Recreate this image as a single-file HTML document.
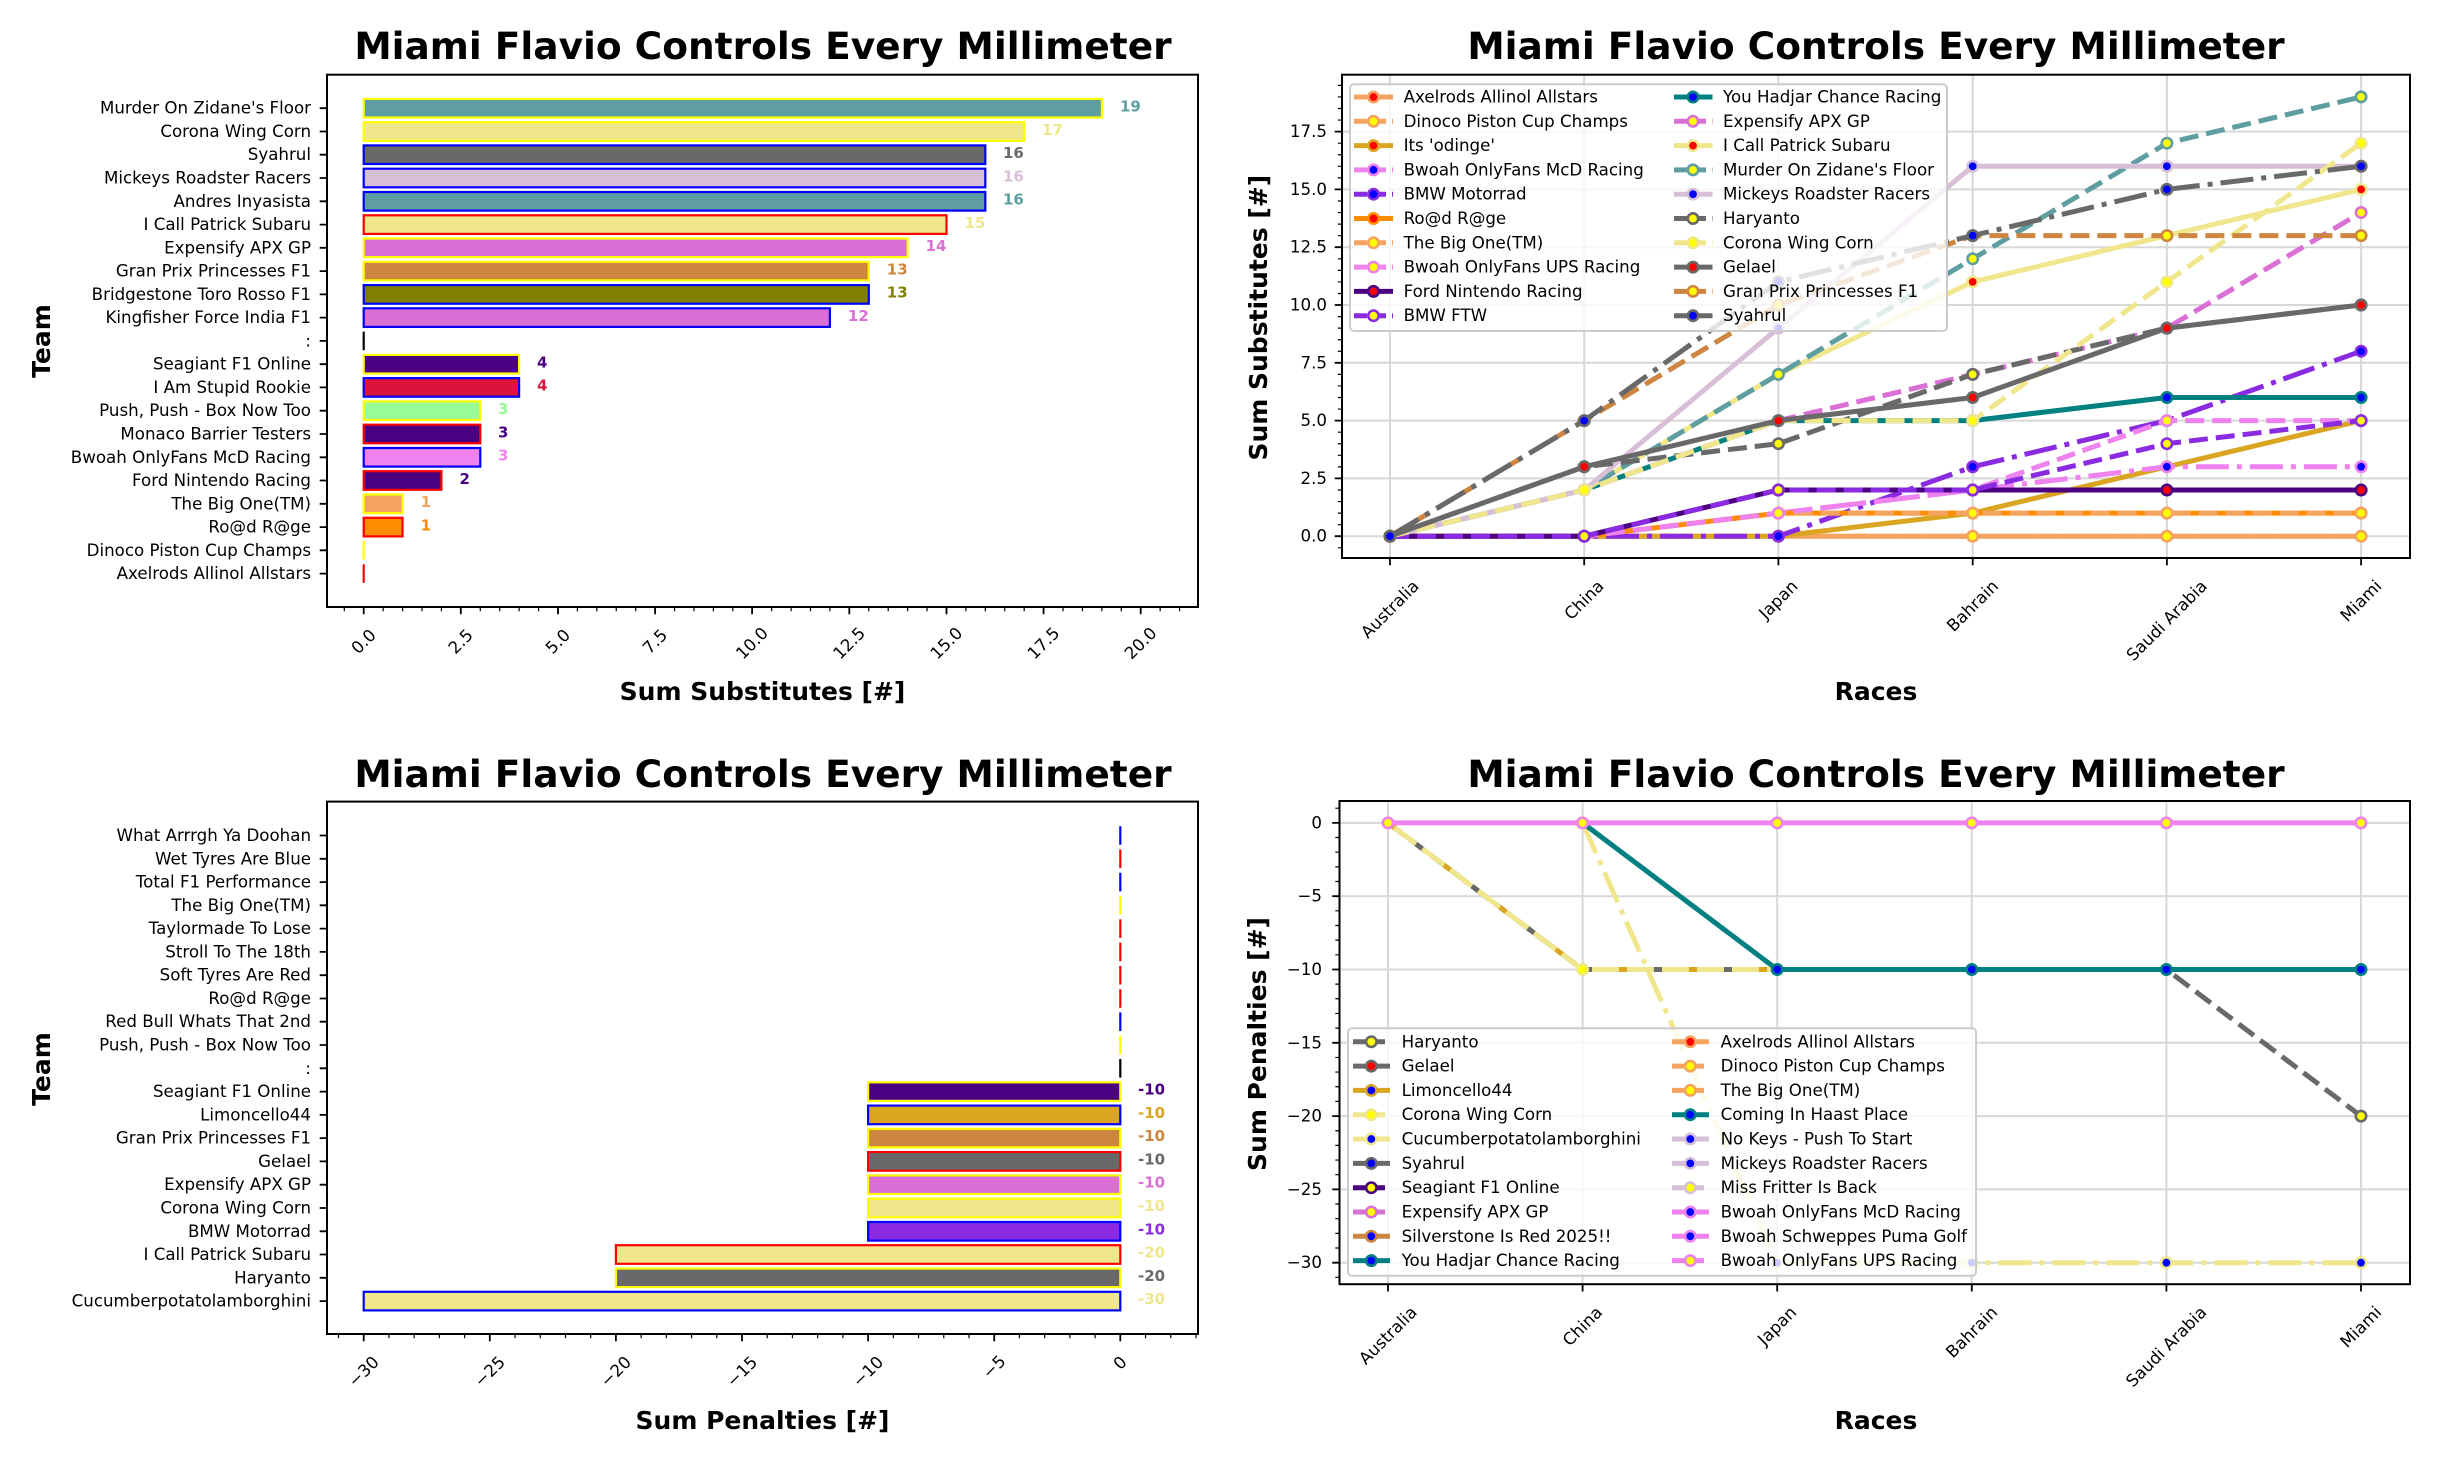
<!DOCTYPE html>
<html><head><meta charset="utf-8"><style>
html,body{margin:0;padding:0;background:#fff}
svg{display:block;font-family:"DejaVu Sans","Liberation Sans",sans-serif}
.t{font-size:16.67px;fill:#000}
.ttl{font-size:37.5px;font-weight:bold;text-anchor:middle}
.al{font-size:25px;font-weight:bold;text-anchor:middle}
.yl{text-anchor:end;dominant-baseline:central}
.vl{font-size:15px;font-weight:bold;dominant-baseline:central}
.rc{text-anchor:middle;dominant-baseline:central}
.lg{dominant-baseline:central}
.g{stroke:#d8d8d8;stroke-width:2}
.k{stroke:#000;stroke-width:1.8}
.ln{fill:none;stroke-width:5}
</style></head><body>
<svg width="2438" height="1458" viewBox="0 0 2438 1458" xmlns="http://www.w3.org/2000/svg">
<defs>
<marker id="sbr" viewBox="-8 -8 16 16" markerWidth="16" markerHeight="16" markerUnits="userSpaceOnUse"><circle r="5.2" fill="red" stroke="#f4a460" stroke-width="2.6"/></marker>
<marker id="sby" viewBox="-8 -8 16 16" markerWidth="16" markerHeight="16" markerUnits="userSpaceOnUse"><circle r="5.2" fill="yellow" stroke="#f4a460" stroke-width="2.6"/></marker>
<marker id="gor" viewBox="-8 -8 16 16" markerWidth="16" markerHeight="16" markerUnits="userSpaceOnUse"><circle r="5.2" fill="red" stroke="#daa520" stroke-width="2.6"/></marker>
<marker id="vib" viewBox="-8 -8 16 16" markerWidth="16" markerHeight="16" markerUnits="userSpaceOnUse"><circle r="5.2" fill="blue" stroke="#ee82ee" stroke-width="2.6"/></marker>
<marker id="viy" viewBox="-8 -8 16 16" markerWidth="16" markerHeight="16" markerUnits="userSpaceOnUse"><circle r="5.2" fill="yellow" stroke="#ee82ee" stroke-width="2.6"/></marker>
<marker id="bvb" viewBox="-8 -8 16 16" markerWidth="16" markerHeight="16" markerUnits="userSpaceOnUse"><circle r="5.2" fill="blue" stroke="#8a2be2" stroke-width="2.6"/></marker>
<marker id="bvy" viewBox="-8 -8 16 16" markerWidth="16" markerHeight="16" markerUnits="userSpaceOnUse"><circle r="5.2" fill="yellow" stroke="#8a2be2" stroke-width="2.6"/></marker>
<marker id="dor" viewBox="-8 -8 16 16" markerWidth="16" markerHeight="16" markerUnits="userSpaceOnUse"><circle r="5.2" fill="red" stroke="#ff8c00" stroke-width="2.6"/></marker>
<marker id="inr" viewBox="-8 -8 16 16" markerWidth="16" markerHeight="16" markerUnits="userSpaceOnUse"><circle r="5.2" fill="red" stroke="#4b0082" stroke-width="2.6"/></marker>
<marker id="teb" viewBox="-8 -8 16 16" markerWidth="16" markerHeight="16" markerUnits="userSpaceOnUse"><circle r="5.2" fill="blue" stroke="#008080" stroke-width="2.6"/></marker>
<marker id="ory" viewBox="-8 -8 16 16" markerWidth="16" markerHeight="16" markerUnits="userSpaceOnUse"><circle r="5.2" fill="yellow" stroke="#da70d6" stroke-width="2.6"/></marker>
<marker id="khr" viewBox="-8 -8 16 16" markerWidth="16" markerHeight="16" markerUnits="userSpaceOnUse"><circle r="5.2" fill="red" stroke="#f0e68c" stroke-width="2.6"/></marker>
<marker id="khy" viewBox="-8 -8 16 16" markerWidth="16" markerHeight="16" markerUnits="userSpaceOnUse"><circle r="5.2" fill="yellow" stroke="#f0e68c" stroke-width="2.6"/></marker>
<marker id="khb" viewBox="-8 -8 16 16" markerWidth="16" markerHeight="16" markerUnits="userSpaceOnUse"><circle r="5.2" fill="blue" stroke="#f0e68c" stroke-width="2.6"/></marker>
<marker id="cby" viewBox="-8 -8 16 16" markerWidth="16" markerHeight="16" markerUnits="userSpaceOnUse"><circle r="5.2" fill="yellow" stroke="#5f9ea0" stroke-width="2.6"/></marker>
<marker id="thb" viewBox="-8 -8 16 16" markerWidth="16" markerHeight="16" markerUnits="userSpaceOnUse"><circle r="5.2" fill="blue" stroke="#d8bfd8" stroke-width="2.6"/></marker>
<marker id="dgy" viewBox="-8 -8 16 16" markerWidth="16" markerHeight="16" markerUnits="userSpaceOnUse"><circle r="5.2" fill="yellow" stroke="#696969" stroke-width="2.6"/></marker>
<marker id="dgr" viewBox="-8 -8 16 16" markerWidth="16" markerHeight="16" markerUnits="userSpaceOnUse"><circle r="5.2" fill="red" stroke="#696969" stroke-width="2.6"/></marker>
<marker id="dgb" viewBox="-8 -8 16 16" markerWidth="16" markerHeight="16" markerUnits="userSpaceOnUse"><circle r="5.2" fill="blue" stroke="#696969" stroke-width="2.6"/></marker>
<marker id="pey" viewBox="-8 -8 16 16" markerWidth="16" markerHeight="16" markerUnits="userSpaceOnUse"><circle r="5.2" fill="yellow" stroke="#cd853f" stroke-width="2.6"/></marker>
</defs>

<!-- ================= TOP LEFT ================= -->
<text class="ttl" x="763" y="59">Miami Flavio Controls Every Millimeter</text>
<g stroke-width="2.2">
<rect x="363.7" y="98.9" width="738.2" height="18.6" fill="#5f9ea0" stroke="yellow"/>
<rect x="363.7" y="122.2" width="660.5" height="18.6" fill="#f0e68c" stroke="yellow"/>
<rect x="363.7" y="145.4" width="621.6" height="18.6" fill="#696969" stroke="blue"/>
<rect x="363.7" y="168.7" width="621.6" height="18.6" fill="#d8bfd8" stroke="blue"/>
<rect x="363.7" y="192.0" width="621.6" height="18.6" fill="#5f9ea0" stroke="blue"/>
<rect x="363.7" y="215.3" width="582.8" height="18.6" fill="#f0e68c" stroke="red"/>
<rect x="363.7" y="238.5" width="543.9" height="18.6" fill="#da70d6" stroke="yellow"/>
<rect x="363.7" y="261.8" width="505.1" height="18.6" fill="#cd853f" stroke="yellow"/>
<rect x="363.7" y="285.1" width="505.1" height="18.6" fill="#808000" stroke="blue"/>
<rect x="363.7" y="308.3" width="466.2" height="18.6" fill="#da70d6" stroke="blue"/>
<line x1="363.7" y1="331.6" x2="363.7" y2="350.2" stroke="#000"/>
<rect x="363.7" y="354.9" width="155.4" height="18.6" fill="#4b0082" stroke="yellow"/>
<rect x="363.7" y="378.1" width="155.4" height="18.6" fill="#dc143c" stroke="blue"/>
<rect x="363.7" y="401.4" width="116.6" height="18.6" fill="#98fb98" stroke="yellow"/>
<rect x="363.7" y="424.7" width="116.6" height="18.6" fill="#4b0082" stroke="red"/>
<rect x="363.7" y="448.0" width="116.6" height="18.6" fill="#ee82ee" stroke="blue"/>
<rect x="363.7" y="471.2" width="77.7" height="18.6" fill="#4b0082" stroke="red"/>
<rect x="363.7" y="494.5" width="38.85" height="18.6" fill="#f4a460" stroke="yellow"/>
<rect x="363.7" y="517.8" width="38.85" height="18.6" fill="#ff8c00" stroke="red"/>
<line x1="363.7" y1="541.0" x2="363.7" y2="559.6" stroke="yellow"/>
<line x1="363.7" y1="564.3" x2="363.7" y2="582.9" stroke="red"/>
</g>
<g class="vl">
<text x="1120" y="106.5" fill="#5f9ea0">19</text>
<text x="1042" y="129.8" fill="#f0e68c">17</text>
<text x="1003" y="153" fill="#696969">16</text>
<text x="1003" y="176.3" fill="#d8bfd8">16</text>
<text x="1003" y="199.6" fill="#5f9ea0">16</text>
<text x="964.5" y="222.9" fill="#f0e68c">15</text>
<text x="925.6" y="246.1" fill="#da70d6">14</text>
<text x="886.8" y="269.4" fill="#cd853f">13</text>
<text x="886.8" y="292.7" fill="#808000">13</text>
<text x="847.9" y="315.9" fill="#da70d6">12</text>
<text x="537" y="362.5" fill="#4b0082">4</text>
<text x="537" y="385.7" fill="#dc143c">4</text>
<text x="498" y="409" fill="#98fb98">3</text>
<text x="498" y="432.3" fill="#4b0082">3</text>
<text x="498" y="455.6" fill="#ee82ee">3</text>
<text x="459.5" y="478.8" fill="#4b0082">2</text>
<text x="420.6" y="502.1" fill="#f4a460">1</text>
<text x="420.6" y="525.4" fill="#ff8c00">1</text>
</g>
<rect x="327" y="74.7" width="871" height="532.3" fill="none" stroke="#000" stroke-width="2"/>
<g class="t yl">
<text x="311" y="108.2">Murder On Zidane's Floor</text>
<text x="311" y="131.5">Corona Wing Corn</text>
<text x="311" y="154.7">Syahrul</text>
<text x="311" y="178.0">Mickeys Roadster Racers</text>
<text x="311" y="201.3">Andres Inyasista</text>
<text x="311" y="224.6">I Call Patrick Subaru</text>
<text x="311" y="247.8">Expensify APX GP</text>
<text x="311" y="271.1">Gran Prix Princesses F1</text>
<text x="311" y="294.4">Bridgestone Toro Rosso F1</text>
<text x="311" y="317.6">Kingfisher Force India F1</text>
<text x="311" y="340.9">:</text>
<text x="311" y="364.2">Seagiant F1 Online</text>
<text x="311" y="387.4">I Am Stupid Rookie</text>
<text x="311" y="410.7">Push, Push - Box Now Too</text>
<text x="311" y="434.0">Monaco Barrier Testers</text>
<text x="311" y="457.3">Bwoah OnlyFans McD Racing</text>
<text x="311" y="480.5">Ford Nintendo Racing</text>
<text x="311" y="503.8">The Big One(TM)</text>
<text x="311" y="527.1">Ro@d R@ge</text>
<text x="311" y="550.3">Dinoco Piston Cup Champs</text>
<text x="311" y="573.6">Axelrods Allinol Allstars</text>
</g>
<path class="k" d="M319.7 108.2H327M319.7 131.5H327M319.7 154.7H327M319.7 178H327M319.7 201.3H327M319.7 224.6H327M319.7 247.8H327M319.7 271.1H327M319.7 294.4H327M319.7 317.6H327M319.7 340.9H327M319.7 364.2H327M319.7 387.4H327M319.7 410.7H327M319.7 434H327M319.7 457.3H327M319.7 480.5H327M319.7 503.8H327M319.7 527.1H327M319.7 550.3H327M319.7 573.6H327"/>
<path class="k" d="M363.7 607V614.3M460.8 607V614.3M558 607V614.3M655.1 607V614.3M752.1 607V614.3M849.3 607V614.3M946.5 607V614.3M1043.6 607V614.3M1140.7 607V614.3"/>
<line x1="343.7" y1="609.1" x2="1198" y2="609.1" stroke="#000" stroke-width="4.2" stroke-dasharray="1.2 18.225"/>
<g class="t rc">
<text x="363.7" y="641.6" transform="rotate(-45 363.7 641.6)">0.0</text>
<text x="460.8" y="641.6" transform="rotate(-45 460.8 641.6)">2.5</text>
<text x="558" y="641.6" transform="rotate(-45 558 641.6)">5.0</text>
<text x="655.1" y="641.6" transform="rotate(-45 655.1 641.6)">7.5</text>
<text x="752.1" y="643.3" transform="rotate(-45 752.1 643.3)">10.0</text>
<text x="849.3" y="643.3" transform="rotate(-45 849.3 643.3)">12.5</text>
<text x="946.5" y="643.3" transform="rotate(-45 946.5 643.3)">15.0</text>
<text x="1043.6" y="643.3" transform="rotate(-45 1043.6 643.3)">17.5</text>
<text x="1140.7" y="643.3" transform="rotate(-45 1140.7 643.3)">20.0</text>
</g>
<text class="al" x="762.5" y="700">Sum Substitutes [#]</text>
<text class="al" x="50" y="341" transform="rotate(-90 50 341)">Team</text>

<!-- ================= TOP RIGHT ================= -->
<text class="ttl" x="1876" y="59">Miami Flavio Controls Every Millimeter</text>
<path class="g" d="M1390 74.7V558M1584.2 74.7V558M1778.4 74.7V558M1972.7 74.7V558M2166.9 74.7V558M2361.1 74.7V558M1342 536.2H2410M1342 478.4H2410M1342 420.6H2410M1342 362.8H2410M1342 305H2410M1342 247.2H2410M1342 189.4H2410M1342 131.6H2410"/>
<g class="ln">
<polyline points="1390,536.2 1584.2,536.2 1778.4,536.2 1972.7,536.2 2166.9,536.2 2361.1,536.2" stroke="#f4a460" marker-start="url(#sbr)" marker-mid="url(#sbr)" marker-end="url(#sbr)"/>
<polyline points="1390,536.2 1584.2,536.2 1778.4,536.2 1972.7,536.2 2166.9,536.2 2361.1,536.2" stroke="#f4a460" stroke-dasharray="19 8" marker-start="url(#sby)" marker-mid="url(#sby)" marker-end="url(#sby)"/>
<polyline points="1390,536.2 1584.2,536.2 1778.4,536.2 1972.7,513.1 2166.9,466.8 2361.1,420.6" stroke="#daa520" marker-start="url(#gor)" marker-mid="url(#gor)" marker-end="url(#gor)"/>
<polyline points="1390,536.2 1584.2,536.2 1778.4,513.1 1972.7,490 2166.9,466.8 2361.1,466.8" stroke="#ee82ee" stroke-dasharray="33 8 5 8" marker-start="url(#vib)" marker-mid="url(#vib)" marker-end="url(#vib)"/>
<polyline points="1390,536.2 1584.2,536.2 1778.4,536.2 1972.7,466.8 2166.9,420.6 2361.1,351.2" stroke="#8a2be2" stroke-dasharray="33 8 5 8" marker-start="url(#bvb)" marker-mid="url(#bvb)" marker-end="url(#bvb)"/>
<polyline points="1390,536.2 1584.2,536.2 1778.4,513.1 1972.7,513.1 2166.9,513.1 2361.1,513.1" stroke="#ff8c00" marker-start="url(#dor)" marker-mid="url(#dor)" marker-end="url(#dor)"/>
<polyline points="1390,536.2 1584.2,536.2 1778.4,513.1 1972.7,513.1 2166.9,513.1 2361.1,513.1" stroke="#f4a460" stroke-dasharray="19 8" marker-start="url(#sby)" marker-mid="url(#sby)" marker-end="url(#sby)"/>
<polyline points="1390,536.2 1584.2,536.2 1778.4,513.1 1972.7,490 2166.9,420.6 2361.1,420.6" stroke="#ee82ee" stroke-dasharray="19 8" marker-start="url(#viy)" marker-mid="url(#viy)" marker-end="url(#viy)"/>
<polyline points="1390,536.2 1584.2,536.2 1778.4,490 1972.7,490 2166.9,490 2361.1,490" stroke="#4b0082" marker-start="url(#inr)" marker-mid="url(#inr)" marker-end="url(#inr)"/>
<polyline points="1390,536.2 1584.2,536.2 1778.4,490 1972.7,490 2166.9,443.7 2361.1,420.6" stroke="#8a2be2" stroke-dasharray="19 8" marker-start="url(#bvy)" marker-mid="url(#bvy)" marker-end="url(#bvy)"/>
<polyline points="1390,536.2 1584.2,490 1778.4,420.6 1972.7,420.6 2166.9,397.5 2361.1,397.5" stroke="#008080" marker-start="url(#teb)" marker-mid="url(#teb)" marker-end="url(#teb)"/>
<polyline points="1390,536.2 1584.2,490 1778.4,420.6 1972.7,374.4 2166.9,328.1 2361.1,212.5" stroke="#da70d6" stroke-dasharray="19 8" marker-start="url(#ory)" marker-mid="url(#ory)" marker-end="url(#ory)"/>
<polyline points="1390,536.2 1584.2,490 1778.4,374.4 1972.7,281.9 2166.9,235.6 2361.1,189.4" stroke="#f0e68c" marker-start="url(#khr)" marker-mid="url(#khr)" marker-end="url(#khr)"/>
<polyline points="1390,536.2 1584.2,490 1778.4,374.4 1972.7,258.8 2166.9,143.2 2361.1,96.9" stroke="#5f9ea0" stroke-dasharray="19 8" marker-start="url(#cby)" marker-mid="url(#cby)" marker-end="url(#cby)"/>
<polyline points="1390,536.2 1584.2,490 1778.4,328.1 1972.7,166.3 2166.9,166.3 2361.1,166.3" stroke="#d8bfd8" marker-start="url(#thb)" marker-mid="url(#thb)" marker-end="url(#thb)"/>
<polyline points="1390,536.2 1584.2,466.8 1778.4,443.7 1972.7,374.4 2166.9,328.1 2361.1,305" stroke="#696969" stroke-dasharray="19 8" marker-start="url(#dgy)" marker-mid="url(#dgy)" marker-end="url(#dgy)"/>
<polyline points="1390,536.2 1584.2,490 1778.4,420.6 1972.7,420.6 2166.9,281.9 2361.1,143.2" stroke="#f0e68c" stroke-dasharray="19 8" marker-start="url(#khy)" marker-mid="url(#khy)" marker-end="url(#khy)"/>
<polyline points="1390,536.2 1584.2,466.8 1778.4,420.6 1972.7,397.5 2166.9,328.1 2361.1,305" stroke="#696969" marker-start="url(#dgr)" marker-mid="url(#dgr)" marker-end="url(#dgr)"/>
<polyline points="1390,536.2 1584.2,420.6 1778.4,305 1972.7,235.6 2166.9,235.6 2361.1,235.6" stroke="#cd853f" stroke-dasharray="19 8" marker-start="url(#pey)" marker-mid="url(#pey)" marker-end="url(#pey)"/>
<polyline points="1390,536.2 1584.2,420.6 1778.4,281.9 1972.7,235.6 2166.9,189.4 2361.1,166.3" stroke="#696969" stroke-dasharray="33 8 5 8" marker-start="url(#dgb)" marker-mid="url(#dgb)" marker-end="url(#dgb)"/>
</g>
<rect x="1350" y="84.3" width="597" height="246.7" rx="4" fill="#fff" fill-opacity="0.8" stroke="#cccccc" stroke-width="2"/>
<g class="ln">
<path d="M1354 97H1393" stroke="#f4a460"/>
<path d="M1354 121.3H1393" stroke="#f4a460" stroke-dasharray="13 6"/>
<path d="M1354 145.6H1393" stroke="#daa520"/>
<path d="M1354 169.9H1393" stroke="#ee82ee" stroke-dasharray="13 6"/>
<path d="M1354 194.2H1393" stroke="#8a2be2" stroke-dasharray="13 6"/>
<path d="M1354 218.5H1393" stroke="#ff8c00"/>
<path d="M1354 242.8H1393" stroke="#f4a460" stroke-dasharray="13 6"/>
<path d="M1354 267.1H1393" stroke="#ee82ee" stroke-dasharray="13 6"/>
<path d="M1354 291.4H1393" stroke="#4b0082"/>
<path d="M1354 315.7H1393" stroke="#8a2be2" stroke-dasharray="13 6"/>
<path d="M1674 97H1712.5" stroke="#008080"/>
<path d="M1674 121.3H1712.5" stroke="#da70d6" stroke-dasharray="13 6"/>
<path d="M1674 145.6H1712.5" stroke="#f0e68c"/>
<path d="M1674 169.9H1712.5" stroke="#5f9ea0" stroke-dasharray="13 6"/>
<path d="M1674 194.2H1712.5" stroke="#d8bfd8"/>
<path d="M1674 218.5H1712.5" stroke="#696969" stroke-dasharray="13 6"/>
<path d="M1674 242.8H1712.5" stroke="#f0e68c" stroke-dasharray="13 6"/>
<path d="M1674 267.1H1712.5" stroke="#696969"/>
<path d="M1674 291.4H1712.5" stroke="#cd853f" stroke-dasharray="13 6"/>
<path d="M1674 315.7H1712.5" stroke="#696969"/>
</g>
<g stroke-width="2.6">
<circle cx="1373.5" cy="97" r="5.2" fill="red" stroke="#f4a460"/>
<circle cx="1373.5" cy="121.3" r="5.2" fill="yellow" stroke="#f4a460"/>
<circle cx="1373.5" cy="145.6" r="5.2" fill="red" stroke="#daa520"/>
<circle cx="1373.5" cy="169.9" r="5.2" fill="blue" stroke="#ee82ee"/>
<circle cx="1373.5" cy="194.2" r="5.2" fill="blue" stroke="#8a2be2"/>
<circle cx="1373.5" cy="218.5" r="5.2" fill="red" stroke="#ff8c00"/>
<circle cx="1373.5" cy="242.8" r="5.2" fill="yellow" stroke="#f4a460"/>
<circle cx="1373.5" cy="267.1" r="5.2" fill="yellow" stroke="#ee82ee"/>
<circle cx="1373.5" cy="291.4" r="5.2" fill="red" stroke="#4b0082"/>
<circle cx="1373.5" cy="315.7" r="5.2" fill="yellow" stroke="#8a2be2"/>
<circle cx="1693" cy="97" r="5.2" fill="blue" stroke="#008080"/>
<circle cx="1693" cy="121.3" r="5.2" fill="yellow" stroke="#da70d6"/>
<circle cx="1693" cy="145.6" r="5.2" fill="red" stroke="#f0e68c"/>
<circle cx="1693" cy="169.9" r="5.2" fill="yellow" stroke="#5f9ea0"/>
<circle cx="1693" cy="194.2" r="5.2" fill="blue" stroke="#d8bfd8"/>
<circle cx="1693" cy="218.5" r="5.2" fill="yellow" stroke="#696969"/>
<circle cx="1693" cy="242.8" r="5.2" fill="yellow" stroke="#f0e68c"/>
<circle cx="1693" cy="267.1" r="5.2" fill="red" stroke="#696969"/>
<circle cx="1693" cy="291.4" r="5.2" fill="yellow" stroke="#cd853f"/>
<circle cx="1693" cy="315.7" r="5.2" fill="blue" stroke="#696969"/>
</g>
<g class="t lg">
<text x="1403.6" y="97">Axelrods Allinol Allstars</text>
<text x="1403.6" y="121.3">Dinoco Piston Cup Champs</text>
<text x="1403.6" y="145.6">Its 'odinge'</text>
<text x="1403.6" y="169.9">Bwoah OnlyFans McD Racing</text>
<text x="1403.6" y="194.2">BMW Motorrad</text>
<text x="1403.6" y="218.5">Ro@d R@ge</text>
<text x="1403.6" y="242.8">The Big One(TM)</text>
<text x="1403.6" y="267.1">Bwoah OnlyFans UPS Racing</text>
<text x="1403.6" y="291.4">Ford Nintendo Racing</text>
<text x="1403.6" y="315.7">BMW FTW</text>
<text x="1723" y="97">You Hadjar Chance Racing</text>
<text x="1723" y="121.3">Expensify APX GP</text>
<text x="1723" y="145.6">I Call Patrick Subaru</text>
<text x="1723" y="169.9">Murder On Zidane's Floor</text>
<text x="1723" y="194.2">Mickeys Roadster Racers</text>
<text x="1723" y="218.5">Haryanto</text>
<text x="1723" y="242.8">Corona Wing Corn</text>
<text x="1723" y="267.1">Gelael</text>
<text x="1723" y="291.4">Gran Prix Princesses F1</text>
<text x="1723" y="315.7">Syahrul</text>
</g>
<rect x="1342" y="74.7" width="1068" height="483.3" fill="none" stroke="#000" stroke-width="2"/>
<path class="k" d="M1334.7 536.2H1342M1334.7 478.4H1342M1334.7 420.6H1342M1334.7 362.8H1342M1334.7 305H1342M1334.7 247.2H1342M1334.7 189.4H1342M1334.7 131.6H1342"/>
<line x1="1339.9" y1="84.8" x2="1339.9" y2="558" stroke="#000" stroke-width="4.2" stroke-dasharray="1.2 10.36"/>
<path class="k" d="M1390 558V565.3M1584.2 558V565.3M1778.4 558V565.3M1972.7 558V565.3M2166.9 558V565.3M2361.1 558V565.3"/>
<g class="t yl">
<text x="1327" y="536.2">0.0</text>
<text x="1327" y="478.4">2.5</text>
<text x="1327" y="420.6">5.0</text>
<text x="1327" y="362.8">7.5</text>
<text x="1327" y="305">10.0</text>
<text x="1327" y="247.2">12.5</text>
<text x="1327" y="189.4">15.0</text>
<text x="1327" y="131.6">17.5</text>
</g>
<g class="t rc">
<text x="1390" y="609.3" transform="rotate(-45 1390 609.3)">Australia</text>
<text x="1584.2" y="600.1" transform="rotate(-45 1584.2 600.1)">China</text>
<text x="1778.4" y="599.7" transform="rotate(-45 1778.4 599.7)">Japan</text>
<text x="1972.7" y="606" transform="rotate(-45 1972.7 606)">Bahrain</text>
<text x="2166.9" y="620.6" transform="rotate(-45 2166.9 620.6)">Saudi Arabia</text>
<text x="2361.1" y="600.9" transform="rotate(-45 2361.1 600.9)">Miami</text>
</g>
<text class="al" x="1876" y="700">Races</text>
<text class="al" x="1267" y="317.7" transform="rotate(-90 1267 317.7)">Sum Substitutes [#]</text>

<!-- ================= BOTTOM LEFT ================= -->
<text class="ttl" x="763" y="787">Miami Flavio Controls Every Millimeter</text>
<g stroke-width="2.2">
<line x1="1120.3" y1="826.2" x2="1120.3" y2="844.8" stroke="blue"/>
<line x1="1120.3" y1="849.5" x2="1120.3" y2="868.1" stroke="red"/>
<line x1="1120.3" y1="872.8" x2="1120.3" y2="891.4" stroke="blue"/>
<line x1="1120.3" y1="896" x2="1120.3" y2="914.6" stroke="yellow"/>
<line x1="1120.3" y1="919.3" x2="1120.3" y2="937.9" stroke="red"/>
<line x1="1120.3" y1="942.6" x2="1120.3" y2="961.2" stroke="red"/>
<line x1="1120.3" y1="965.9" x2="1120.3" y2="984.5" stroke="red"/>
<line x1="1120.3" y1="989.2" x2="1120.3" y2="1007.8" stroke="red"/>
<line x1="1120.3" y1="1012.4" x2="1120.3" y2="1031" stroke="blue"/>
<line x1="1120.3" y1="1035.7" x2="1120.3" y2="1054.3" stroke="yellow"/>
<line x1="1120.3" y1="1059" x2="1120.3" y2="1077.6" stroke="#000"/>
<rect x="868.1" y="1082.3" width="252.2" height="18.6" fill="#4b0082" stroke="yellow"/>
<rect x="868.1" y="1105.6" width="252.2" height="18.6" fill="#daa520" stroke="blue"/>
<rect x="868.1" y="1128.8" width="252.2" height="18.6" fill="#cd853f" stroke="yellow"/>
<rect x="868.1" y="1152.1" width="252.2" height="18.6" fill="#696969" stroke="red"/>
<rect x="868.1" y="1175.4" width="252.2" height="18.6" fill="#da70d6" stroke="yellow"/>
<rect x="868.1" y="1198.7" width="252.2" height="18.6" fill="#f0e68c" stroke="yellow"/>
<rect x="868.1" y="1222" width="252.2" height="18.6" fill="#8a2be2" stroke="blue"/>
<rect x="615.9" y="1245.2" width="504.4" height="18.6" fill="#f0e68c" stroke="red"/>
<rect x="615.9" y="1268.5" width="504.4" height="18.6" fill="#696969" stroke="yellow"/>
<rect x="363.7" y="1291.8" width="756.6" height="18.6" fill="#f0e68c" stroke="blue"/>
</g>
<g class="vl">
<text x="1138" y="1089.6" fill="#4b0082">-10</text>
<text x="1138" y="1112.9" fill="#daa520">-10</text>
<text x="1138" y="1136.1" fill="#cd853f">-10</text>
<text x="1138" y="1159.4" fill="#696969">-10</text>
<text x="1138" y="1182.7" fill="#da70d6">-10</text>
<text x="1138" y="1206" fill="#f0e68c">-10</text>
<text x="1138" y="1229.3" fill="#8a2be2">-10</text>
<text x="1138" y="1252.5" fill="#f0e68c">-20</text>
<text x="1138" y="1275.8" fill="#696969">-20</text>
<text x="1138" y="1299.1" fill="#f0e68c">-30</text>
</g>
<rect x="327" y="801.6" width="871" height="532.4" fill="none" stroke="#000" stroke-width="2"/>
<g class="t yl">
<text x="311" y="835.5">What Arrrgh Ya Doohan</text>
<text x="311" y="858.8">Wet Tyres Are Blue</text>
<text x="311" y="882.1">Total F1 Performance</text>
<text x="311" y="905.3">The Big One(TM)</text>
<text x="311" y="928.6">Taylormade To Lose</text>
<text x="311" y="951.9">Stroll To The 18th</text>
<text x="311" y="975.2">Soft Tyres Are Red</text>
<text x="311" y="998.5">Ro@d R@ge</text>
<text x="311" y="1021.7">Red Bull Whats That 2nd</text>
<text x="311" y="1045">Push, Push - Box Now Too</text>
<text x="311" y="1068.3">:</text>
<text x="311" y="1091.6">Seagiant F1 Online</text>
<text x="311" y="1114.9">Limoncello44</text>
<text x="311" y="1138.1">Gran Prix Princesses F1</text>
<text x="311" y="1161.4">Gelael</text>
<text x="311" y="1184.7">Expensify APX GP</text>
<text x="311" y="1208">Corona Wing Corn</text>
<text x="311" y="1231.3">BMW Motorrad</text>
<text x="311" y="1254.5">I Call Patrick Subaru</text>
<text x="311" y="1277.8">Haryanto</text>
<text x="311" y="1301.1">Cucumberpotatolamborghini</text>
</g>
<path class="k" d="M319.7 835.5H327M319.7 858.8H327M319.7 882.1H327M319.7 905.3H327M319.7 928.6H327M319.7 951.9H327M319.7 975.2H327M319.7 998.5H327M319.7 1021.7H327M319.7 1045H327M319.7 1068.3H327M319.7 1091.6H327M319.7 1114.9H327M319.7 1138.1H327M319.7 1161.4H327M319.7 1184.7H327M319.7 1208H327M319.7 1231.3H327M319.7 1254.5H327M319.7 1277.8H327M319.7 1301.1H327"/>
<path class="k" d="M363.7 1334V1341.3M489.8 1334V1341.3M615.9 1334V1341.3M742 1334V1341.3M868.1 1334V1341.3M994.2 1334V1341.3M1120.3 1334V1341.3"/>
<line x1="337.9" y1="1336.1" x2="1198" y2="1336.1" stroke="#000" stroke-width="4.2" stroke-dasharray="1.2 24.02"/>
<g class="t rc">
<text x="363.7" y="1371.7" transform="rotate(-45 363.7 1371.7)">−30</text>
<text x="489.8" y="1371.7" transform="rotate(-45 489.8 1371.7)">−25</text>
<text x="615.9" y="1371.7" transform="rotate(-45 615.9 1371.7)">−20</text>
<text x="742" y="1371.7" transform="rotate(-45 742 1371.7)">−15</text>
<text x="868.1" y="1371.7" transform="rotate(-45 868.1 1371.7)">−10</text>
<text x="994.2" y="1367" transform="rotate(-45 994.2 1367)">−5</text>
<text x="1120.3" y="1363" transform="rotate(-45 1120.3 1363)">0</text>
</g>
<text class="al" x="762.5" y="1429">Sum Penalties [#]</text>
<text class="al" x="50" y="1069" transform="rotate(-90 50 1069)">Team</text>

<!-- ================= BOTTOM RIGHT ================= -->
<text class="ttl" x="1876" y="787">Miami Flavio Controls Every Millimeter</text>
<path class="g" d="M1388 801V1284.2M1582.6 801V1284.2M1777.2 801V1284.2M1971.8 801V1284.2M2166.4 801V1284.2M2361 801V1284.2M1339.5 822.9H2410M1339.5 896.2H2410M1339.5 969.5H2410M1339.5 1042.8H2410M1339.5 1116.1H2410M1339.5 1189.4H2410M1339.5 1262.7H2410"/>
<g class="ln">
<polyline points="1388,822.9 1582.6,969.5 1777.2,969.5 1971.8,969.5 2166.4,969.5 2361,1116.1" stroke="#696969" stroke-dasharray="19 8" marker-end="url(#dgy)"/>
<polyline points="1388,822.9 1582.6,969.5 1777.2,969.5" stroke="#f0e68c"/>
<polyline points="1388,822.9 1582.6,969.5 1777.2,969.5" stroke="#daa520" stroke-dasharray="8 62"/>
<polyline points="1388,822.9 1582.6,969.5 1777.2,969.5" stroke="#696969" stroke-dasharray="8 62" stroke-dashoffset="35"/>
<polyline points="1582.6,822.9 1777.2,1262.7 1971.8,1262.7 2166.4,1262.7 2361,1262.7" stroke="#f0e68c" stroke-dasharray="33 8 5 8" marker-start="url(#khb)" marker-mid="url(#khb)" marker-end="url(#khb)"/>
<polyline points="1582.6,822.9 1777.2,969.5 1971.8,969.5 2166.4,969.5 2361,969.5" stroke="#008080" marker-mid="url(#teb)" marker-end="url(#teb)"/>
<polyline points="1388,822.9 1582.6,822.9 1777.2,822.9 1971.8,822.9 2166.4,822.9 2361,822.9" stroke="#ee82ee" marker-start="url(#viy)" marker-mid="url(#viy)" marker-end="url(#viy)"/>
</g>
<circle cx="1582.6" cy="969.5" r="5.2" fill="yellow" stroke="#f0e68c" stroke-width="2.6"/>
<rect x="1348" y="1028.3" width="628" height="247.5" rx="4" fill="#fff" fill-opacity="0.8" stroke="#cccccc" stroke-width="2"/>
<g class="ln">
<path d="M1353 1041.8H1390" stroke="#696969" stroke-dasharray="13 6"/>
<path d="M1353 1066.1H1390" stroke="#696969"/>
<path d="M1353 1090.4H1390" stroke="#daa520"/>
<path d="M1353 1114.7H1390" stroke="#f0e68c" stroke-dasharray="13 6"/>
<path d="M1353 1139H1390" stroke="#f0e68c"/>
<path d="M1353 1163.4H1390" stroke="#696969"/>
<path d="M1353 1187.7H1390" stroke="#4b0082" stroke-dasharray="13 6"/>
<path d="M1353 1212H1390" stroke="#da70d6" stroke-dasharray="13 6"/>
<path d="M1353 1236.3H1390" stroke="#cd853f"/>
<path d="M1353 1260.6H1390" stroke="#008080"/>
<path d="M1672 1041.8H1709" stroke="#f4a460"/>
<path d="M1672 1066.1H1709" stroke="#f4a460" stroke-dasharray="13 6"/>
<path d="M1672 1090.4H1709" stroke="#f4a460" stroke-dasharray="13 6"/>
<path d="M1672 1114.7H1709" stroke="#008080"/>
<path d="M1672 1139H1709" stroke="#d8bfd8"/>
<path d="M1672 1163.4H1709" stroke="#d8bfd8"/>
<path d="M1672 1187.7H1709" stroke="#d8bfd8" stroke-dasharray="13 6"/>
<path d="M1672 1212H1709" stroke="#ee82ee"/>
<path d="M1672 1236.3H1709" stroke="#ee82ee"/>
<path d="M1672 1260.6H1709" stroke="#ee82ee" stroke-dasharray="13 6"/>
</g>
<g stroke-width="2.6">
<circle cx="1371.3" cy="1041.8" r="5.2" fill="yellow" stroke="#696969"/>
<circle cx="1371.3" cy="1066.1" r="5.2" fill="red" stroke="#696969"/>
<circle cx="1371.3" cy="1090.4" r="5.2" fill="blue" stroke="#daa520"/>
<circle cx="1371.3" cy="1114.7" r="5.2" fill="yellow" stroke="#f0e68c"/>
<circle cx="1371.3" cy="1139" r="5.2" fill="blue" stroke="#f0e68c"/>
<circle cx="1371.3" cy="1163.4" r="5.2" fill="blue" stroke="#696969"/>
<circle cx="1371.3" cy="1187.7" r="5.2" fill="yellow" stroke="#4b0082"/>
<circle cx="1371.3" cy="1212" r="5.2" fill="yellow" stroke="#da70d6"/>
<circle cx="1371.3" cy="1236.3" r="5.2" fill="blue" stroke="#cd853f"/>
<circle cx="1371.3" cy="1260.6" r="5.2" fill="blue" stroke="#008080"/>
<circle cx="1690.3" cy="1041.8" r="5.2" fill="red" stroke="#f4a460"/>
<circle cx="1690.3" cy="1066.1" r="5.2" fill="yellow" stroke="#f4a460"/>
<circle cx="1690.3" cy="1090.4" r="5.2" fill="yellow" stroke="#f4a460"/>
<circle cx="1690.3" cy="1114.7" r="5.2" fill="blue" stroke="#008080"/>
<circle cx="1690.3" cy="1139" r="5.2" fill="blue" stroke="#d8bfd8"/>
<circle cx="1690.3" cy="1163.4" r="5.2" fill="blue" stroke="#d8bfd8"/>
<circle cx="1690.3" cy="1187.7" r="5.2" fill="yellow" stroke="#d8bfd8"/>
<circle cx="1690.3" cy="1212" r="5.2" fill="blue" stroke="#ee82ee"/>
<circle cx="1690.3" cy="1236.3" r="5.2" fill="blue" stroke="#ee82ee"/>
<circle cx="1690.3" cy="1260.6" r="5.2" fill="yellow" stroke="#ee82ee"/>
</g>
<g class="t lg">
<text x="1401.6" y="1041.8">Haryanto</text>
<text x="1401.6" y="1066.1">Gelael</text>
<text x="1401.6" y="1090.4">Limoncello44</text>
<text x="1401.6" y="1114.7">Corona Wing Corn</text>
<text x="1401.6" y="1139">Cucumberpotatolamborghini</text>
<text x="1401.6" y="1163.4">Syahrul</text>
<text x="1401.6" y="1187.7">Seagiant F1 Online</text>
<text x="1401.6" y="1212">Expensify APX GP</text>
<text x="1401.6" y="1236.3">Silverstone Is Red 2025!!</text>
<text x="1401.6" y="1260.6">You Hadjar Chance Racing</text>
<text x="1720.6" y="1041.8">Axelrods Allinol Allstars</text>
<text x="1720.6" y="1066.1">Dinoco Piston Cup Champs</text>
<text x="1720.6" y="1090.4">The Big One(TM)</text>
<text x="1720.6" y="1114.7">Coming In Haast Place</text>
<text x="1720.6" y="1139">No Keys - Push To Start</text>
<text x="1720.6" y="1163.4">Mickeys Roadster Racers</text>
<text x="1720.6" y="1187.7">Miss Fritter Is Back</text>
<text x="1720.6" y="1212">Bwoah OnlyFans McD Racing</text>
<text x="1720.6" y="1236.3">Bwoah Schweppes Puma Golf</text>
<text x="1720.6" y="1260.6">Bwoah OnlyFans UPS Racing</text>
</g>
<rect x="1339.5" y="801" width="1070.5" height="483.2" fill="none" stroke="#000" stroke-width="2"/>
<path class="k" d="M1332.2 822.9H1339.5M1332.2 896.2H1339.5M1332.2 969.5H1339.5M1332.2 1042.8H1339.5M1332.2 1116.1H1339.5M1332.2 1189.4H1339.5M1332.2 1262.7H1339.5"/>
<line x1="1337.4" y1="807.6" x2="1337.4" y2="1284.2" stroke="#000" stroke-width="4.2" stroke-dasharray="1.2 13.46"/>
<path class="k" d="M1388 1284.2V1291.5M1582.6 1284.2V1291.5M1777.2 1284.2V1291.5M1971.8 1284.2V1291.5M2166.4 1284.2V1291.5M2361 1284.2V1291.5"/>
<g class="t yl">
<text x="1322" y="822.9">0</text>
<text x="1322" y="896.2">−5</text>
<text x="1322" y="969.5">−10</text>
<text x="1322" y="1042.8">−15</text>
<text x="1322" y="1116.1">−20</text>
<text x="1322" y="1189.4">−25</text>
<text x="1322" y="1262.7">−30</text>
</g>
<g class="t rc">
<text x="1388" y="1335.5" transform="rotate(-45 1388 1335.5)">Australia</text>
<text x="1582.6" y="1326.3" transform="rotate(-45 1582.6 1326.3)">China</text>
<text x="1777.2" y="1325.9" transform="rotate(-45 1777.2 1325.9)">Japan</text>
<text x="1971.8" y="1332.2" transform="rotate(-45 1971.8 1332.2)">Bahrain</text>
<text x="2166.4" y="1346.8" transform="rotate(-45 2166.4 1346.8)">Saudi Arabia</text>
<text x="2361" y="1327.1" transform="rotate(-45 2361 1327.1)">Miami</text>
</g>
<text class="al" x="1876" y="1429">Races</text>
<text class="al" x="1266" y="1044" transform="rotate(-90 1266 1044)">Sum Penalties [#]</text>
</svg>
</body></html>
